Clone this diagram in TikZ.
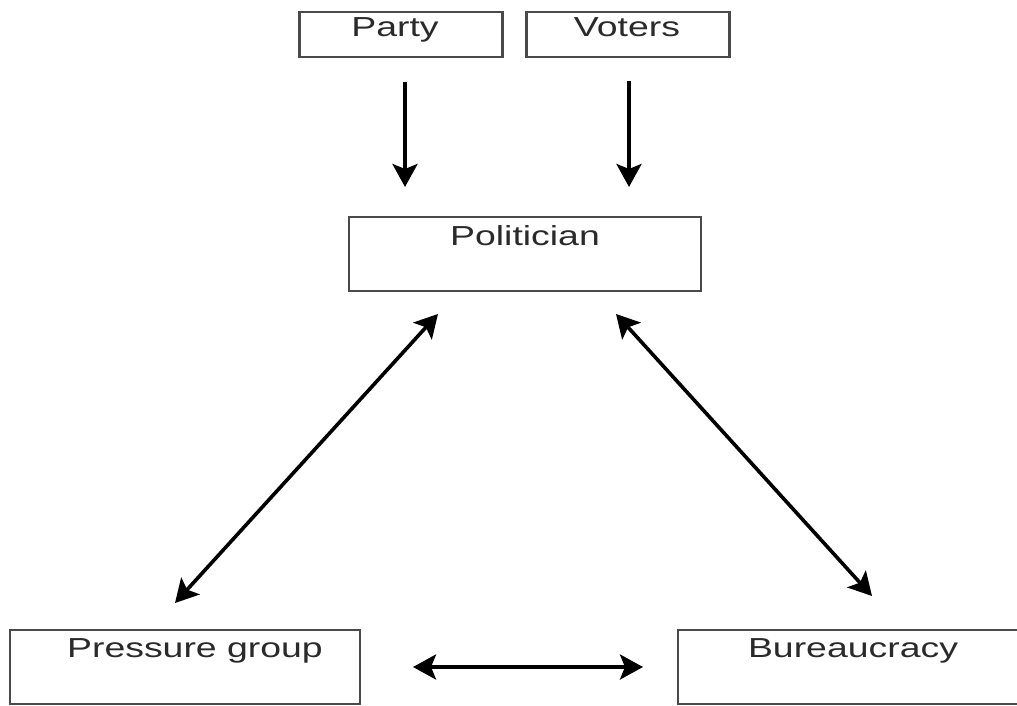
\documentclass[tikz,border=0pt]{standalone}
\usepackage{fontspec}
\setmainfont[FakeStretch=1.36]{Liberation Sans}
\usetikzlibrary{arrows.meta}
\definecolor{boxline}{HTML}{4A4A4A}
\definecolor{boxtext}{HTML}{2A2A2A}
\tikzset{
  box/.style={draw=boxline, line width=2.4pt, fill=white},
  lab/.style={text=boxtext, font=\fontsize{27.5}{30}\selectfont, inner sep=0pt, anchor=base},
  conn/.style={line width=3.6pt, black, -{Stealth[length=23pt,width=25pt,inset=5pt]}},
  biconn/.style={line width=3.6pt, black, {Stealth[length=23pt,width=25pt,inset=5pt]}-{Stealth[length=23pt,width=25pt,inset=5pt]}}
}
\begin{document}
\begin{tikzpicture}[x=1pt,y=-1pt]
\useasboundingbox (0,0) rectangle (1017,706);
\clip (0,0) rectangle (1017,706);
% boxes
\node[box, minimum width=203pt, minimum height=45pt, inner sep=0pt] (party) at (401,34.5) {};
\node[box, minimum width=203pt, minimum height=45pt, inner sep=0pt] (voters) at (628,34.5) {};
\node[box, minimum width=352pt, minimum height=74pt, inner sep=0pt] (pol) at (525,254) {};
\node[box, minimum width=350pt, minimum height=74pt, inner sep=0pt] (pg) at (185,667) {};
\node[box, minimum width=345pt, minimum height=74pt, inner sep=0pt] (bur) at (850.5,667) {};
% labels
\node[lab] (partyl) at (395,37) {Party};
\node[lab] (votersl) at (627,37) {Voters};
\node[lab] (poll) at (525,245) {Politician};
\node[lab] (pgl) at (195,657) {Pressure group};
\node[lab] (burl) at (853,657) {Bureaucracy};
% connector end points
\coordinate (pa1) at (405,82);
\coordinate (pa2) at (405,187);
\coordinate (va1) at (629,81);
\coordinate (va2) at (629,187);
\coordinate (l1) at (438,314);
\coordinate (l2) at (175,603);
\coordinate (r1) at (616,314);
\coordinate (r2) at (872,596);
\coordinate (h1) at (413,667);
\coordinate (h2) at (643,667);
% connectors
\draw[conn] (pa1) -- (pa2);
\draw[conn] (va1) -- (va2);
\draw[biconn] (l1) -- (l2);
\draw[biconn] (r1) -- (r2);
\draw[biconn] (h1) -- (h2);
\end{tikzpicture}
\end{document}
